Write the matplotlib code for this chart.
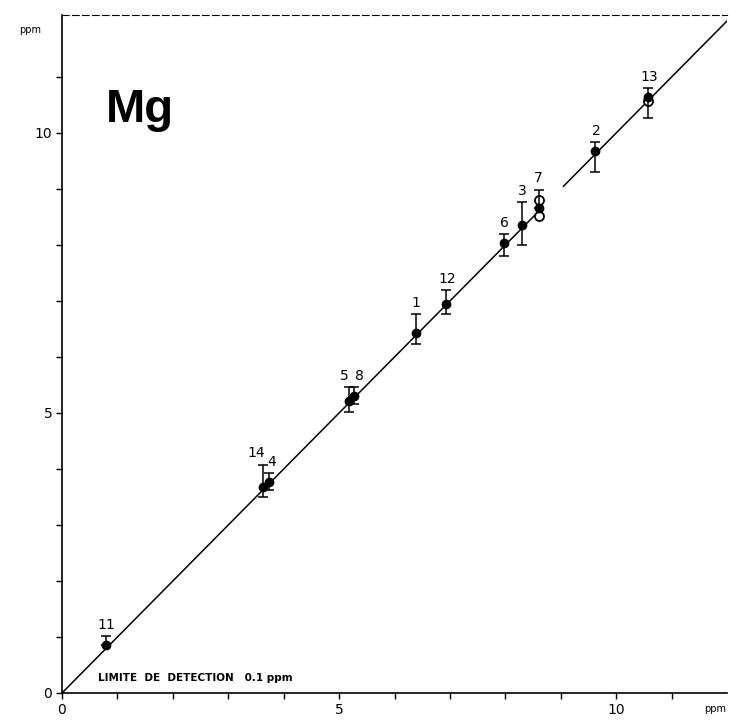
import matplotlib.pyplot as plt
import numpy as np

labels = ['11', '14', '4', '5', '8', '1', '12', '6', '3', '7', '2', '13']
x_ref = [0.80, 3.63, 3.74, 5.17, 5.27, 6.38, 6.93, 7.98, 8.30, 8.60, 9.62, 10.58]
y_mes = [0.86, 3.68, 3.77, 5.22, 5.31, 6.42, 6.94, 8.03, 8.36, 8.66, 9.67, 10.65]
y_hi = [1.01, 4.08, 3.93, 5.46, 5.46, 6.77, 7.20, 8.20, 8.77, 8.99, 9.84, 10.81]
y_lo = [0.86, 3.50, 3.63, 5.02, 5.16, 6.24, 6.76, 7.80, 8.00, 8.66, 9.31, 10.27]

# second determination (open circles)
x_open = [8.60, 8.60, 10.58]
y_open = [8.80, 8.52, 10.58]

# horizontal label shifts (points) so overlapping numbers stay readable
label_dx = [0, -5, 2, -3, 4, 0, 1, 0, 0, 0, 1, 1]

# 1:1 line, drawn in two pieces (gap around the 7/2 region)
line_pieces = [(0, 8.6), (9.05, 12)]

fig = plt.figure(figsize=(7.3, 7.21), dpi=100)
ax = fig.add_axes([62 / 730, 28 / 721, 665 / 730, 677.6 / 721])

for a, b in line_pieces:
    ax.plot([a, b], [a, b], color='black', lw=1.1)

yerr = [np.array(y_mes) - np.array(y_lo), np.array(y_hi) - np.array(y_mes)]
ax.errorbar(x_ref, y_mes, yerr=yerr, fmt='o', color='black', ms=6,
            capsize=3.5, elinewidth=1.1, capthick=1.1, zorder=3)
ax.plot(x_open, y_open, 'o', mfc='white', mec='black', mew=1.3, ms=6.5, zorder=2)

for lab, xx, top, dx in zip(labels, x_ref, y_hi, label_dx):
    ax.annotate(lab, (xx, top), xytext=(dx, 8), textcoords='offset points',
                ha='center', va='center', fontsize=10)

ax.text(0.8, 10.2, 'Mg', fontsize=34, fontweight='bold',
        family=['Liberation Sans Narrow', 'Liberation Sans'], va='baseline')
ax.text(0.65, 0.21, 'LIMITE  DE  DETECTION   0.1 ppm', fontsize=7.5,
        fontweight='bold', va='baseline')

ax.set_xlim(0, 12)
ax.set_ylim(0, 12.1)
ax.set_xticks(range(0, 12))
ax.set_yticks(range(0, 12))
ax.set_xticklabels(['0', '', '', '', '', '5', '', '', '', '', '10', ''])
ax.set_yticklabels(['0', '', '', '', '', '5', '', '', '', '', '10', ''])
ax.tick_params(direction='out', length=4, width=1, labelsize=10, pad=3)

ax.spines['right'].set_visible(False)
ax.spines['top'].set_linestyle((0, (6, 3)))
ax.spines['top'].set_linewidth(0.8)
ax.spines['left'].set_linewidth(1.2)
ax.spines['bottom'].set_linewidth(1.2)

ax.text(0.965, -0.024, 'ppm', transform=ax.transAxes, fontsize=7, va='center')
ax.text(-0.048, 0.978, 'ppm', transform=ax.transAxes, fontsize=7, va='center', ha='center')

fig.savefig('out.png', dpi=100)
